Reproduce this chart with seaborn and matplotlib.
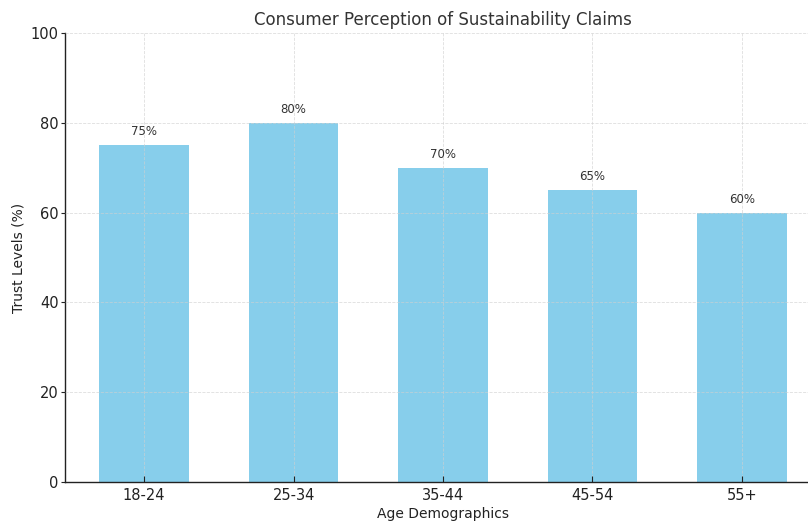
import matplotlib
matplotlib.use("Agg")
import matplotlib.pyplot as plt
import seaborn as sns
import pandas as pd

age_groups = ["18-24", "25-34", "35-44", "45-54", "55+"]
trust_levels = [75, 80, 70, 65, 60]
y_ticks = [0, 20, 40, 60, 80, 100]

sns.set_style("white")
plt.rcParams["font.family"] = ["DejaVu Sans"]

df = pd.DataFrame({"Age Demographics": age_groups, "Trust Levels (%)": trust_levels})

fig = plt.figure(figsize=(8.08, 5.22), dpi=100)
ax = fig.add_axes([65 / 808, 1 - 482 / 522, (821 - 65) / 808, (482 - 33) / 522])

sns.barplot(data=df, x="Age Demographics", y="Trust Levels (%)", color="#87CEEB",
            saturation=1, width=0.6, linewidth=0, ax=ax)
ax.set_xlim(-0.53, 4.53)
ax.set_ylim(0, 100)
ax.set_yticks(y_ticks)

ax.grid(True, linestyle="--", linewidth=0.6, color="#d0d0d0", alpha=0.7)
ax.set_axisbelow(False)

for spine in ("top", "right"):
    ax.spines[spine].set_visible(False)
for spine in ("left", "bottom"):
    ax.spines[spine].set_color("#222222")
    ax.spines[spine].set_linewidth(1.0)

ax.tick_params(axis="y", direction="out", length=3, width=0.8, labelsize=10.5,
               colors="#222222", left=True, pad=1.5)
ax.tick_params(axis="x", direction="in", length=4, width=0.8, labelsize=10.5,
               colors="#222222", bottom=True, pad=4)

for i, v in enumerate(trust_levels):
    ax.annotate(f"{v}%", xy=(i, v), xytext=(0, 5), textcoords="offset points",
                ha="center", va="bottom", fontsize=8.5, color="#333333")

ax.set_title("Consumer Perception of Sustainability Claims", fontsize=12,
             color="#333333", pad=6)
ax.set_xlabel("Age Demographics", fontsize=10, color="#222222", labelpad=3)
ax.set_ylabel("Trust Levels (%)", fontsize=10, color="#222222", labelpad=4)

fig.savefig("out.png", dpi=100)
